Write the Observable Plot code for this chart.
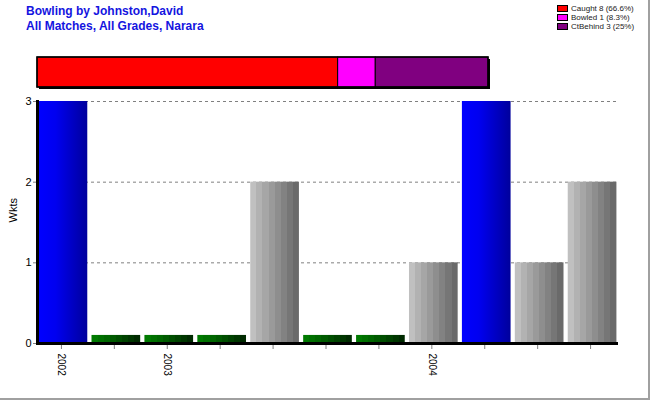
<!DOCTYPE html>
<html><head><meta charset="utf-8">
<script src="https://cdn.jsdelivr.net/npm/d3@7"></script>
<script src="https://cdn.jsdelivr.net/npm/@observablehq/plot@0.6"></script>
<style>
body{margin:0;background:#fff;font-family:"Liberation Sans",Arial,sans-serif;}
#frame{position:relative;width:650px;height:400px;overflow:hidden;background:#fff;}
#border{position:absolute;left:0;top:0;width:648px;height:398px;border-right:2px solid #a0a0a0;border-bottom:2px solid #a0a0a0;}
#title{position:absolute;left:26px;top:4px;color:#1414e0;font-weight:bold;font-size:12px;line-height:15px;}
#legend{position:absolute;left:557px;top:4px;font-size:8px;color:#222;line-height:9px;}
#legend .row{display:flex;align-items:center;height:9px;}
#legend .sw{width:9px;height:5px;border:1px solid #000;margin-right:3px;}
#summary{position:absolute;left:0;top:50px;}
#main{position:absolute;left:0;top:90px;}
svg{background:transparent !important;}
</style></head><body>
<div id="frame">
  <div id="title">Bowling by Johnston,David<br>All Matches, All Grades, Narara</div>
  <div id="legend"></div>
  <div id="summary"></div>
  <div id="main"></div>
  <div id="border"></div>
</div>
<script>
// Main chart data (one bar per match slot)
const slots = [0,1,2,3,4,5,6,7,8,9,10];
const tickLabels = ["2002","","2003","","","","","2004","","",""];
const wickets = [3,0.1,0.1,0.1,2,0.1,0.1,1,3,1,2];
const kinds = ["blue","green","green","green","gray","green","green","gray","blue","gray","gray"];
const yTicks = [0,1,2,3];

// Dismissal summary
const dismissTypes = ["Caught","Bowled","CtBehind"];
const dismissCounts = [8,1,3];
const dismissPct = ["66.6%","8.3%","25%"];
const dismissColors = ["#ff0000","#ff00ff","#800080"];

const bars = slots.map((s,i)=>({slot:s, w:wickets[i], kind:kinds[i]}));
const summary = dismissTypes.map((t,i)=>({type:t, n:dismissCounts[i], color:dismissColors[i]}));

// Legend
const legend = document.getElementById("legend");
dismissTypes.forEach((t,i)=>{
  const r = document.createElement("div"); r.className="row";
  const sw = document.createElement("div"); sw.className="sw"; sw.style.background=dismissColors[i];
  const tx = document.createElement("span"); tx.textContent = `${t} ${dismissCounts[i]} (${dismissPct[i]})`;
  r.appendChild(sw); r.appendChild(tx); legend.appendChild(r);
});

// Summary bar
const total = d3.sum(dismissCounts);
const sumPlot = Plot.plot({
  width:650, height:45, marginTop:7, marginBottom:8, marginLeft:37, marginRight:162,
  x:{domain:[0,total], axis:null}, y:{axis:null},
  style:{background:"transparent"},
  marks:[
    Plot.barX([{n:total}], {x:"n", fill:"black", dx:2, dy:2}),
    Plot.barX(summary, Plot.stackX({x:"n", fill:"color", stroke:"black", strokeWidth:1})),
    Plot.barX([{n:total}], {x:"n", fill:"none", stroke:"black", strokeWidth:1.5})
  ],
  color:{type:"identity"}
});
document.getElementById("summary").appendChild(sumPlot);

// Main chart
const mainPlot = Plot.plot({
  width:650, height:310, marginTop:11, marginBottom:57, marginLeft:37, marginRight:32,
  style:{background:"transparent", fontFamily:"Liberation Sans, Arial, sans-serif"},
  x:{type:"band", domain:slots, paddingInner:0.08, paddingOuter:0.03, round:false},
  y:{domain:[0,3]},
  color:{type:"identity"},
  marks:[
    Plot.ruleY([1,2,3], {stroke:"#808080", strokeDasharray:"3,3", strokeWidth:1}),
    Plot.barY(bars, {x:"slot", y:"w", fill:d=>`url(#grad-${d.kind})`}),
    Plot.axisY({ticks:yTicks, tickFormat:d3.format("d"), tickSize:4, tickPadding:2, fontSize:11, label:null, stroke:"#808080", color:"#000"}),
    Plot.axisX({tickFormat:i=>tickLabels[i], tickRotate:90, tickSize:6, tickPadding:4, fontSize:10, label:null, stroke:"#808080", color:"#000", dx:-2}),
    Plot.ruleY([0], {stroke:"black", strokeWidth:3}),
    Plot.frame({anchor:"left", stroke:"black", strokeWidth:3}),
    Plot.text(["Wkts"], {frameAnchor:"left", dx:-24, rotate:-90, fontSize:11, fill:"#000"})
  ]
});
// gradient definitions
const svg = d3.select(mainPlot.tagName.toLowerCase()==="svg" ? mainPlot : mainPlot.querySelector("svg"));
const defs = svg.insert("defs", ":first-child");
function stepped(id, colors){
  const g = defs.append("linearGradient").attr("id", id).attr("x1","0").attr("x2","1").attr("y1","0").attr("y2","0");
  const n = colors.length;
  colors.forEach((c,i)=>{
    g.append("stop").attr("offset", i/n).attr("stop-color", c);
    g.append("stop").attr("offset", (i+1)/n).attr("stop-color", c);
  });
}
const gb = defs.append("linearGradient").attr("id","grad-blue").attr("x1","0").attr("x2","1");
gb.append("stop").attr("offset",0).attr("stop-color","#0000ff");
gb.append("stop").attr("offset",0.35).attr("stop-color","#0000f0");
gb.append("stop").attr("offset",1).attr("stop-color","#00009c");
stepped("grad-green", ["#007a00","#007000","#006600","#005a00","#004e00","#004200","#003600","#002a00"]);
stepped("grad-gray", ["#c0c0c0","#b2b2b2","#a6a6a6","#9a9a9a","#8e8e8e","#828282","#767676","#6a6a6a"]);
document.getElementById("main").appendChild(mainPlot);
</script>
</body></html>
